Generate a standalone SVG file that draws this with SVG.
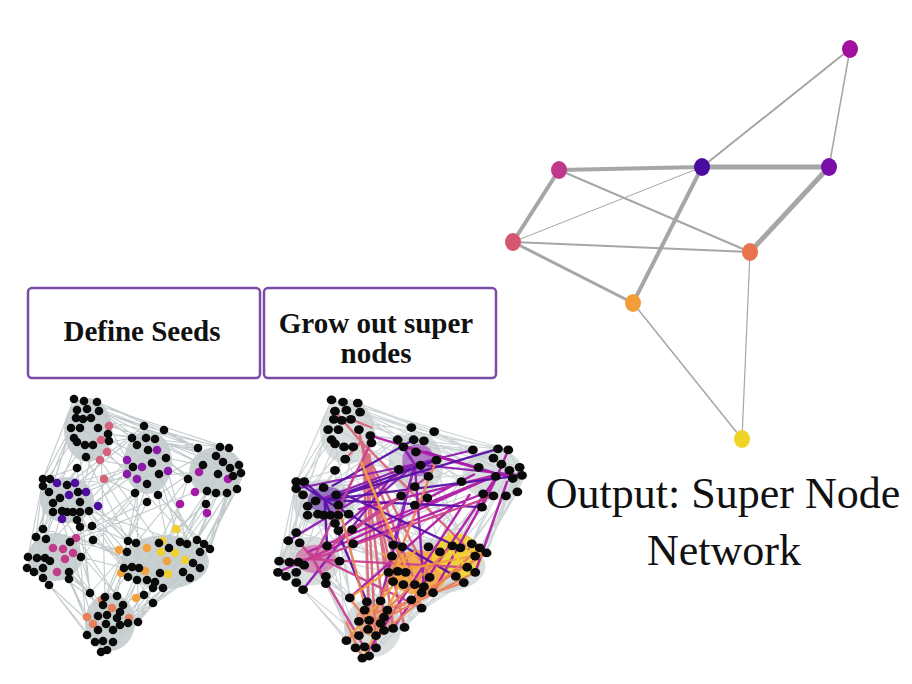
<svg xmlns="http://www.w3.org/2000/svg" width="912" height="684" viewBox="0 0 912 684">
<style>
.bg{fill:#ffffff}
.box{fill:#ffffff;stroke:#7b4ba8;stroke-width:2.5}
.btxt{font-family:"Liberation Serif","Times New Roman",serif;font-weight:bold;font-size:29px;fill:#111;text-anchor:middle}
.otxt{font-family:"Liberation Serif","Times New Roman",serif;font-size:44px;fill:#111;text-anchor:middle}
.sedge{stroke:#a6a6a6;fill:none;stroke-linecap:round}
.gedge{stroke:#c3cbcd;stroke-width:1.1;fill:none}
.blob{fill:#c9d1d2}
.bk{fill:#0a0a0a}
.ce{fill:none;stroke-width:2.2;stroke-linecap:round;opacity:0.95}
</style>
<defs>
<g id="grayEdges">
<path class="gedge" d="M74 399 L144 426 M97 402 L164 430 M99 411 L198 448 M108 434 L220 447 M109 440 L188 479 M86 457 L67 485 M77 468 L43 479 M93 445 L132 438 M91 418 L229 448 M109 426 L239 465 M98 428 L80 502 M85 445 L49 492 M77 442 L43 529 M86 457 L128 541 M104 479 L147 548 M100 460 L159 543 M107 452 L200 552 M101 440 L105 597 M77 468 L90 593 M71 428 L36 537 M144 426 L67 485 M132 438 L60 498 M146 438 L216 456 M164 430 L233 476 M166 458 L241 473 M155 439 L203 465 M148 450 L89 511 M133 467 L53 503 M159 474 L180 542 M147 484 L128 541 M135 493 L93 540 M147 502 L62 542 M158 495 L197 540 M127 460 L27 568 M142 467 L117 596 M168 471 L187 544 M137 479 L138 622 M198 448 L137 445 M220 447 L147 484 M239 465 L210 549 M188 479 L153 588 M207 491 L163 588 M216 493 L128 577 M227 493 L200 568 M237 489 L190 578 M206 506 L155 582 M180 504 L120 612 M195 492 L70 542 M207 513 L113 642 M43 486 L43 529 M67 485 L128 541 M80 502 L124 568 M89 511 L153 603 M53 512 L28 557 M77 520 L87 635 M98 506 L163 588 M86 492 L166 458 M62 519 L102 652 M75 483 L199 472 M36 537 L90 593 M70 542 L127 552 M81 557 L124 568 M93 540 L132 567 M69 578 L87 617 M49 585 L98 630 M43 578 L95 642 M57 572 L117 618 M76 538 L160 573 M127 552 L103 605 M132 567 L98 616 M137 580 L120 625 M147 580 L128 623 M155 582 L138 622 M153 603 L113 630 M163 588 L128 623 M210 549 L153 603 M193 563 L144 595 M183 572 L138 622 M200 568 L144 595 M43 529 L127 552 M28 557 L87 635 M74 399 L43 479 M97 402 L198 448 M84 401 L132 438 M229 448 L241 473 M204 544 L241 473 M99 411 L166 458 M109 426 L137 479 M71 428 L27 568 M43 479 L36 537 M89 511 L187 544 M53 503 L117 596 M158 495 L204 544 M230 468 L197 540 M241 473 L163 588 M62 511 L43 578 M84 401 L229 448 M87 409 L166 458 M76 418 L50 479 M80 428 L127 460 M74 438 L43 486 M77 442 L89 511 M93 445 L147 484 M108 434 L198 448 M86 457 L133 467 M77 468 L53 503 M104 479 L135 493 M100 460 L80 502 M144 426 L220 447 M164 430 L198 448 M146 438 L203 465 M155 439 L241 473 M148 450 L216 493 M166 458 L188 479 M152 463 L80 512 M133 467 L67 485 M159 474 L200 552 M147 484 L81 557 M135 493 L70 542 M147 502 L128 541 M158 495 L169 548 M203 465 L158 495 M218 474 L180 542 M233 476 L210 549 M207 491 L147 580 M216 493 L183 572 M227 493 L197 540 M206 504 L159 543 M188 479 L136 543 M43 479 L28 557 M50 479 L37 558 M67 485 L93 540 M78 492 L136 543 M60 498 L46 539 M80 502 L127 552 M53 512 L34 572 M73 512 L124 568 M80 527 L90 593 M92 526 L128 541 M43 529 L87 617 M36 537 L49 585 M46 539 L103 605 M70 542 L117 596 M81 557 L98 616 M69 572 L107 615 M69 579 L95 642 M93 540 L139 568 M50 561 L90 593 M128 541 L105 597 M127 552 L90 593 M124 568 L98 630 M139 568 L117 618 M155 582 L123 605 M163 588 L138 622 M144 595 L113 630 M153 603 L107 650 M187 544 L163 588 M200 568 L153 603 M190 578 L128 623 M183 572 L120 625 M241 473 L200 568 M237 489 L204 544 M98 411 L144 426 M71 428 L43 479 M99 411 L155 439"/>
</g>
<g id="blobs">
<ellipse class="blob" cx="88" cy="430" rx="24" ry="32"/>
<ellipse class="blob" cx="148" cy="462" rx="24" ry="32"/>
<ellipse class="blob" cx="216" cy="472" rx="27" ry="25"/>
<ellipse class="blob" cx="67" cy="500" rx="27" ry="23"/>
<ellipse class="blob" cx="55" cy="557" rx="27" ry="24"/>
<ellipse class="blob" cx="165" cy="562" rx="44" ry="27"/>
<ellipse class="blob" cx="110" cy="622" rx="25" ry="29"/>
</g>
<g id="blackNodes" class="bk">
<circle cx="74" cy="399" r="4.3"/><circle cx="84" cy="401" r="4.3"/><circle cx="97" cy="402" r="4.3"/><circle cx="77" cy="410" r="4.3"/><circle cx="87" cy="409" r="4.3"/><circle cx="99" cy="411" r="4.3"/><circle cx="76" cy="418" r="4.3"/><circle cx="83" cy="419" r="4.3"/><circle cx="91" cy="418" r="4.3"/><circle cx="71" cy="428" r="4.3"/><circle cx="80" cy="428" r="4.3"/><circle cx="98" cy="428" r="4.3"/><circle cx="74" cy="438" r="4.3"/><circle cx="77" cy="442" r="4.3"/><circle cx="85" cy="445" r="4.3"/><circle cx="93" cy="445" r="4.3"/><circle cx="108" cy="434" r="4.3"/><circle cx="109" cy="441" r="4.3"/><circle cx="86" cy="457" r="4.3"/><circle cx="77" cy="468" r="4.3"/>
<circle cx="144" cy="426" r="4.3"/><circle cx="164" cy="430" r="4.3"/><circle cx="132" cy="438" r="4.3"/><circle cx="146" cy="438" r="4.3"/><circle cx="155" cy="439" r="4.3"/><circle cx="137" cy="445" r="4.3"/><circle cx="148" cy="450" r="4.3"/><circle cx="166" cy="458" r="4.3"/><circle cx="152" cy="463" r="4.3"/><circle cx="133" cy="467" r="4.3"/><circle cx="159" cy="474" r="4.3"/><circle cx="147" cy="484" r="4.3"/><circle cx="135" cy="493" r="4.3"/><circle cx="147" cy="502" r="4.3"/><circle cx="158" cy="495" r="4.3"/>
<circle cx="198" cy="448" r="4.3"/><circle cx="220" cy="447" r="4.3"/><circle cx="229" cy="448" r="4.3"/><circle cx="216" cy="456" r="4.3"/><circle cx="223" cy="462" r="4.3"/><circle cx="203" cy="465" r="4.3"/><circle cx="230" cy="468" r="4.3"/><circle cx="239" cy="465" r="4.3"/><circle cx="241" cy="473" r="4.3"/><circle cx="188" cy="479" r="4.3"/><circle cx="218" cy="474" r="4.3"/><circle cx="233" cy="476" r="4.3"/><circle cx="207" cy="491" r="4.3"/><circle cx="216" cy="493" r="4.3"/><circle cx="227" cy="493" r="4.3"/><circle cx="237" cy="489" r="4.3"/><circle cx="206" cy="504" r="4.3"/>
<circle cx="43" cy="479" r="4.3"/><circle cx="50" cy="479" r="4.3"/><circle cx="43" cy="486" r="4.3"/><circle cx="67" cy="485" r="4.3"/><circle cx="49" cy="492" r="4.3"/><circle cx="78" cy="492" r="4.3"/><circle cx="60" cy="498" r="4.3"/><circle cx="80" cy="502" r="4.3"/><circle cx="53" cy="503" r="4.3"/><circle cx="89" cy="511" r="4.3"/><circle cx="62" cy="511" r="4.3"/><circle cx="67" cy="512" r="4.3"/><circle cx="73" cy="512" r="4.3"/><circle cx="80" cy="512" r="4.3"/><circle cx="53" cy="512" r="4.3"/><circle cx="77" cy="520" r="4.3"/><circle cx="80" cy="527" r="4.3"/><circle cx="92" cy="526" r="4.3"/>
<circle cx="43" cy="529" r="4.3"/><circle cx="36" cy="537" r="4.3"/><circle cx="46" cy="539" r="4.3"/><circle cx="70" cy="542" r="4.3"/><circle cx="28" cy="557" r="4.3"/><circle cx="37" cy="558" r="4.3"/><circle cx="45" cy="558" r="4.3"/><circle cx="27" cy="568" r="4.3"/><circle cx="34" cy="572" r="4.3"/><circle cx="43" cy="568" r="4.3"/><circle cx="43" cy="578" r="4.3"/><circle cx="49" cy="585" r="4.3"/><circle cx="69" cy="572" r="4.3"/><circle cx="69" cy="579" r="4.3"/><circle cx="81" cy="557" r="4.3"/><circle cx="93" cy="540" r="4.3"/><circle cx="50" cy="561" r="4.3"/>
<circle cx="128" cy="541" r="4.3"/><circle cx="136" cy="543" r="4.3"/><circle cx="127" cy="552" r="4.3"/><circle cx="124" cy="568" r="4.3"/><circle cx="132" cy="567" r="4.3"/><circle cx="139" cy="568" r="4.3"/><circle cx="128" cy="577" r="4.3"/><circle cx="137" cy="580" r="4.3"/><circle cx="147" cy="580" r="4.3"/><circle cx="155" cy="582" r="4.3"/><circle cx="153" cy="588" r="4.3"/><circle cx="163" cy="588" r="4.3"/><circle cx="144" cy="595" r="4.3"/><circle cx="153" cy="603" r="4.3"/><circle cx="159" cy="543" r="4.3"/><circle cx="180" cy="542" r="4.3"/><circle cx="187" cy="544" r="4.3"/><circle cx="197" cy="540" r="4.3"/><circle cx="204" cy="544" r="4.3"/><circle cx="210" cy="549" r="4.3"/><circle cx="200" cy="552" r="4.3"/><circle cx="193" cy="563" r="4.3"/><circle cx="200" cy="568" r="4.3"/><circle cx="183" cy="572" r="4.3"/><circle cx="190" cy="578" r="4.3"/><circle cx="160" cy="573" r="4.3"/><circle cx="169" cy="548" r="4.3"/>
<circle cx="90" cy="593" r="4.3"/><circle cx="105" cy="597" r="4.3"/><circle cx="117" cy="596" r="4.3"/><circle cx="123" cy="605" r="4.3"/><circle cx="103" cy="605" r="4.3"/><circle cx="98" cy="616" r="4.3"/><circle cx="107" cy="615" r="4.3"/><circle cx="117" cy="618" r="4.3"/><circle cx="106" cy="624" r="4.3"/><circle cx="98" cy="630" r="4.3"/><circle cx="113" cy="630" r="4.3"/><circle cx="120" cy="625" r="4.3"/><circle cx="128" cy="623" r="4.3"/><circle cx="138" cy="622" r="4.3"/><circle cx="87" cy="635" r="4.3"/><circle cx="95" cy="642" r="4.3"/><circle cx="103" cy="641" r="4.3"/><circle cx="113" cy="642" r="4.3"/><circle cx="107" cy="650" r="4.3"/><circle cx="101" cy="652" r="4.3"/><circle cx="120" cy="612" r="4.3"/>
</g>
</defs>
<rect class="bg" x="0" y="0" width="912" height="684"/>

<!-- Left network: seeds -->
<g id="seeds-network">
<use href="#blobs"/>
<use href="#grayEdges"/>
<g fill="#d3627a">
<circle cx="109" cy="426" r="4.3"/><circle cx="101" cy="440" r="4.3"/><circle cx="107" cy="452" r="4.3"/><circle cx="100" cy="460" r="4.3"/><circle cx="104" cy="479" r="4.3"/>
</g>
<g fill="#8b1aa9">
<circle cx="157" cy="450" r="4.3"/><circle cx="127" cy="460" r="4.3"/><circle cx="142" cy="467" r="4.3"/><circle cx="127" cy="474" r="4.3"/><circle cx="137" cy="479" r="4.3"/><circle cx="168" cy="471" r="4.3"/>
</g>
<g fill="#a21aa4">
<circle cx="199" cy="472" r="4.3"/><circle cx="228" cy="479" r="4.3"/><circle cx="195" cy="492" r="4.3"/><circle cx="180" cy="504" r="4.3"/><circle cx="207" cy="513" r="4.3"/>
</g>
<g fill="#4e0c9e">
<circle cx="57" cy="483" r="4.3"/><circle cx="75" cy="483" r="4.3"/><circle cx="69" cy="495" r="4.3"/><circle cx="86" cy="492" r="4.3"/><circle cx="62" cy="519" r="4.3"/><circle cx="98" cy="506" r="4.3"/>
</g>
<g fill="#c23c8c">
<circle cx="76" cy="538" r="4.3"/><circle cx="53" cy="548" r="4.3"/><circle cx="63" cy="549" r="4.3"/><circle cx="73" cy="553" r="4.3"/><circle cx="65" cy="559" r="4.3"/><circle cx="57" cy="572" r="4.3"/>
</g>
<g fill="#f2a23e">
<circle cx="119" cy="550" r="4.3"/><circle cx="147" cy="548" r="4.3"/><circle cx="167" cy="561" r="4.3"/><circle cx="145" cy="571" r="4.3"/><circle cx="121" cy="573" r="4.3"/><circle cx="136" cy="598" r="4.3"/>
</g>
<g fill="#f0cf30">
<circle cx="176" cy="529" r="4.3"/><circle cx="162" cy="541" r="4.3"/><circle cx="175" cy="553" r="4.3"/><circle cx="185" cy="560" r="4.3"/><circle cx="168" cy="574" r="4.3"/><circle cx="161" cy="552" r="4.3"/>
</g>
<g fill="#e8805a">
<circle cx="102" cy="600" r="4.3"/><circle cx="112" cy="608" r="4.3"/><circle cx="87" cy="617" r="4.3"/><circle cx="93" cy="624" r="4.3"/><circle cx="129" cy="618" r="4.3"/>
</g>
<use href="#blackNodes"/>
</g>

<!-- Middle network: grown super nodes -->
<g id="grown-network" transform="matrix(1.14 0 0 1.02 247.2 -7)">
<use href="#blobs" opacity="0.7"/>
<use href="#grayEdges" opacity="0.8"/>
<ellipse cx="150" cy="568" rx="26" ry="22" fill="#f4a641" opacity="0.9"/>
<ellipse cx="184" cy="552" rx="22" ry="22" fill="#f1d231" opacity="0.9"/>
<ellipse cx="60" cy="555" rx="18" ry="14" fill="#cc4d95" opacity="0.55"/>
<ellipse cx="70" cy="497" rx="17" ry="13" fill="#5a12aa" opacity="0.5"/>
<ellipse cx="150" cy="458" rx="14" ry="16" fill="#8c1cb0" opacity="0.5"/>
<ellipse cx="112" cy="615" rx="17" ry="16" fill="#ea8a60" opacity="0.6"/>
<path class="ce" stroke="#d9667a" d="M100 440 L145 571 M100 440 L132 567 M100 440 L124 568 M102 445 L107 615 M102 445 L120 612 M104 450 L160 573 M104 450 L113 642 M100 440 L200 552 M100 440 L86 457 M100 440 L77 410 M100 440 L98 428 M100 440 L93 445 M104 479 L100 460 M104 479 L147 584 M109 426 L91 418 M107 452 L128 623 M101 440 L138 622"/>
<path class="ce" stroke="#8c1cb0" d="M147 462 L60 498 M147 462 L43 486 M147 462 L36 537 M147 462 L198 448 M147 462 L128 541 M147 462 L155 582 M147 462 L117 596 M147 462 L241 473 M147 462 L132 438 M147 462 L166 458 M147 462 L159 474 M147 462 L137 445 M142 467 L80 527 M127 474 L49 585 M157 450 L233 476"/>
<path class="ce" stroke="#b01aa8" d="M220 472 L163 588 M220 472 L128 623 M220 472 L137 445 M220 472 L27 568 M220 472 L108 434 M220 472 L98 506 M220 472 L53 548 M220 472 L241 473 M220 472 L229 448 M220 472 L206 504 M207 491 L93 540 M199 472 L147 502 M228 479 L200 568 M195 492 L102 652 M180 504 L90 593"/>
<path class="ce" stroke="#5a10a8" d="M68 497 L166 458 M68 497 L241 473 M68 497 L206 504 M68 497 L183 572 M68 497 L70 542 M68 497 L105 597 M68 497 L220 447 M68 497 L43 479 M68 497 L89 511 M68 497 L50 479 M75 483 L146 438 M86 492 L187 544"/>
<path class="ce" stroke="#c8408f" d="M58 555 L147 484 M58 555 L216 493 M58 555 L193 563 M58 555 L107 650 M58 555 L109 440 M58 555 L28 557 M58 555 L46 539 M58 555 L69 579 M58 555 L81 557 M76 538 L159 474 M53 548 L153 603"/>
<path class="ce" stroke="#f2a03c" d="M140 565 L102 652 M140 565 L87 635 M140 565 L100 460 M140 565 L210 549 M140 565 L119 550 M140 565 L153 603 M147 548 L90 593"/>
<path class="ce" stroke="#e98058" d="M108 620 L200 568 M108 620 L210 549 M108 620 L180 542 M108 620 L166 458 M108 620 L80 502 M108 620 L87 635 M108 620 L98 630 M108 620 L90 593 M112 608 L190 578 M129 618 L204 544 M87 617 L101 652"/>
<path class="ce" stroke="#f0d030" d="M182 552 L197 540 M182 552 L204 544 M182 552 L176 529 M182 552 L193 563"/>
<use href="#blackNodes"/>
</g>

<!-- Step boxes -->
<g id="box-define-seeds">
<rect class="box" x="28" y="288" width="232" height="90" rx="4"/>
<text class="btxt" x="142" y="341">Define Seeds</text>
</g>
<g id="box-grow-super-nodes">
<rect class="box" x="264" y="288" width="232" height="90" rx="4"/>
<text class="btxt" x="376" y="333">Grow out super</text>
<text class="btxt" x="376" y="363">nodes</text>
</g>

<!-- Super node network -->
<g id="super-edges">
<line class="sedge" x1="850" y1="49" x2="702" y2="167" stroke-width="2"/>
<line class="sedge" x1="850" y1="49" x2="829" y2="167" stroke-width="1.5"/>
<line class="sedge" x1="702" y1="167" x2="829" y2="167" stroke-width="5"/>
<line class="sedge" x1="559" y1="170" x2="702" y2="167" stroke-width="4"/>
<line class="sedge" x1="559" y1="170" x2="513" y2="242" stroke-width="4"/>
<line class="sedge" x1="559" y1="170" x2="750" y2="252" stroke-width="2"/>
<line class="sedge" x1="513" y1="242" x2="702" y2="167" stroke-width="1"/>
<line class="sedge" x1="513" y1="242" x2="750" y2="252" stroke-width="2.2"/>
<line class="sedge" x1="513" y1="242" x2="633" y2="303" stroke-width="3"/>
<line class="sedge" x1="702" y1="167" x2="633" y2="303" stroke-width="4"/>
<line class="sedge" x1="829" y1="167" x2="750" y2="252" stroke-width="5"/>
<line class="sedge" x1="633" y1="303" x2="742" y2="439" stroke-width="1.5"/>
<line class="sedge" x1="750" y1="252" x2="742" y2="439" stroke-width="1.2"/>
</g>
<g id="sn-top"><ellipse cx="850" cy="49" rx="8" ry="9" fill="#a0119f"/></g>
<g id="sn-center"><ellipse cx="702" cy="167" rx="8" ry="9" fill="#4a0c9c"/></g>
<g id="sn-right"><ellipse cx="829" cy="167" rx="8" ry="9" fill="#7a0eaa"/></g>
<g id="sn-left-upper"><ellipse cx="559" cy="170" rx="8" ry="9" fill="#c1378b"/></g>
<g id="sn-left"><ellipse cx="513" cy="242" rx="8" ry="9" fill="#d5566f"/></g>
<g id="sn-orange-red"><ellipse cx="750" cy="252" rx="8" ry="9" fill="#e8744f"/></g>
<g id="sn-orange"><ellipse cx="633" cy="303" rx="8" ry="9" fill="#f39c3a"/></g>
<g id="sn-yellow"><ellipse cx="742" cy="439" rx="8" ry="9" fill="#efd426"/></g>

<g id="output-label">
<text class="otxt" x="723" y="508">Output: Super Node</text>
<text class="otxt" x="724" y="565">Network</text>
</g>
</svg>
